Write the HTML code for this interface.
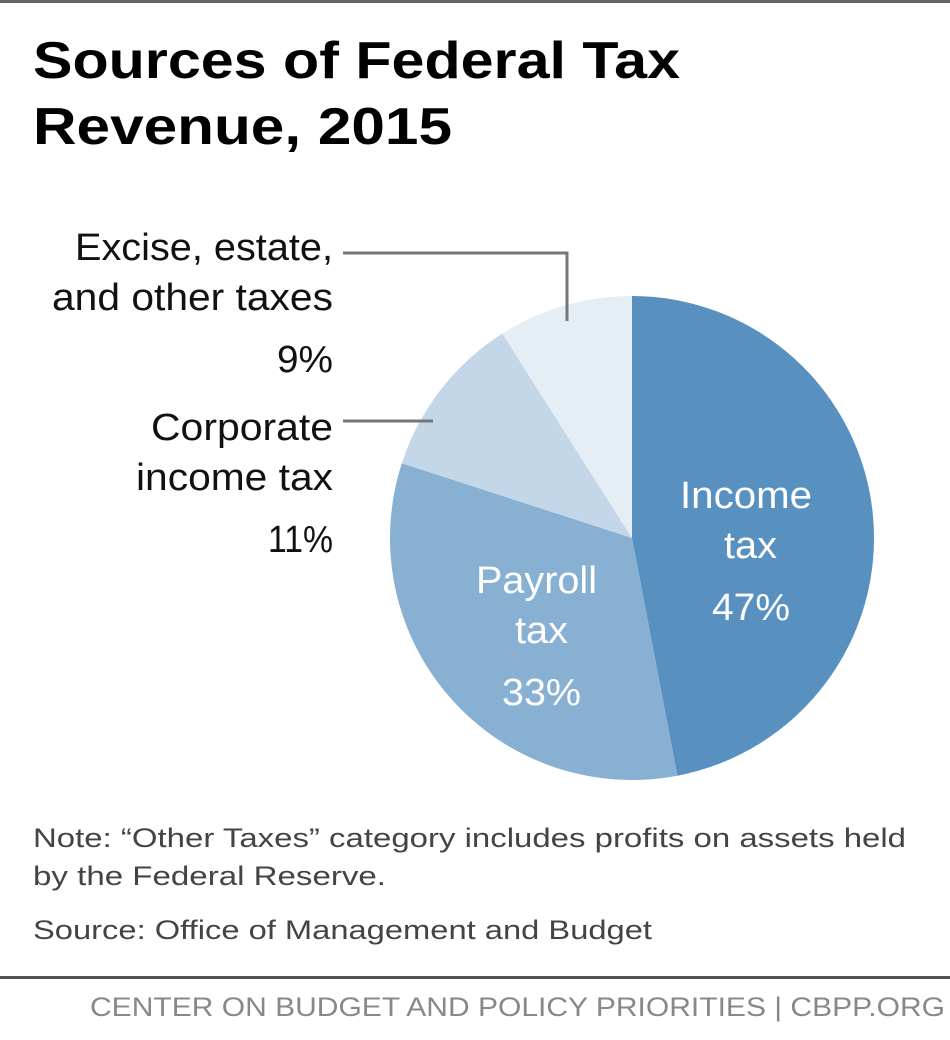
<!DOCTYPE html>
<html><head><meta charset="utf-8"><style>
html,body{margin:0;padding:0;background:#fff;}
body{width:950px;height:1035px;position:relative;overflow:hidden;font-family:"Liberation Sans",sans-serif;}
</style></head><body>
<svg width="950" height="1035" viewBox="0 0 950 1035" xmlns="http://www.w3.org/2000/svg">
<rect x="0" y="0" width="950" height="3" fill="#666"/>
<text x="33" y="78" font-size="52" font-weight="bold" fill="#000" textLength="647" lengthAdjust="spacingAndGlyphs">Sources of Federal Tax</text>
<text x="33" y="144" font-size="52" font-weight="bold" fill="#000" textLength="419" lengthAdjust="spacingAndGlyphs">Revenue, 2015</text>
<g id="pie"></g>
<g font-size="38" fill="#111" lengthAdjust="spacingAndGlyphs">
<text x="75" y="260" textLength="258" lengthAdjust="spacingAndGlyphs">Excise, estate,</text>
<text x="52" y="310" textLength="281" lengthAdjust="spacingAndGlyphs">and other taxes</text>
<text x="277" y="372" textLength="56" lengthAdjust="spacingAndGlyphs">9%</text>
<text x="151" y="440" textLength="182" lengthAdjust="spacingAndGlyphs">Corporate</text>
<text x="136" y="490" textLength="197" lengthAdjust="spacingAndGlyphs">income tax</text>
<text x="268" y="552" textLength="65" lengthAdjust="spacingAndGlyphs">11%</text>
</g>
<polyline points="343,253 567,253 567,321" fill="none" stroke="#777" stroke-width="3"/>
<line x1="343" y1="421" x2="433" y2="421" stroke="#777" stroke-width="3"/>
<g font-size="38" fill="#fff">
<text x="680" y="508" textLength="132" lengthAdjust="spacingAndGlyphs">Income</text>
<text x="724" y="558" textLength="53" lengthAdjust="spacingAndGlyphs">tax</text>
<text x="712" y="620" textLength="78" lengthAdjust="spacingAndGlyphs">47%</text>
<text x="476" y="593" textLength="121" lengthAdjust="spacingAndGlyphs">Payroll</text>
<text x="515" y="643" textLength="53" lengthAdjust="spacingAndGlyphs">tax</text>
<text x="502" y="705" textLength="79" lengthAdjust="spacingAndGlyphs">33%</text>
</g>
<g font-size="27" fill="#444">
<text x="33" y="847" textLength="873" lengthAdjust="spacingAndGlyphs">Note: “Other Taxes” category includes profits on assets held</text>
<text x="33" y="885" textLength="353" lengthAdjust="spacingAndGlyphs">by the Federal Reserve.</text>
<text x="33" y="939" textLength="619" lengthAdjust="spacingAndGlyphs">Source: Office of Management and Budget</text>
</g>
<rect x="0" y="976" width="950" height="3" fill="#555"/>
<text x="90" y="1016" font-size="27" fill="#888" textLength="855" lengthAdjust="spacingAndGlyphs">CENTER ON BUDGET AND POLICY PRIORITIES | CBPP.ORG</text>
</svg>
<script>
const categories = ["Income tax","Payroll tax","Corporate income tax","Excise, estate, and other taxes"];
const values = [47,33,11,9];
const colors = ["#5891c0","#88b0d3","#c3d7e8","#e5edf5"];
const cx=632, cy=538, r=242;
const g=document.getElementById('pie');
const total=values.reduce((a,b)=>a+b,0);
let a0=0;
values.forEach((v,i)=>{
  const a1=a0+v/total*2*Math.PI;
  const x0=cx+r*Math.sin(a0), y0=cy-r*Math.cos(a0);
  const x1=cx+r*Math.sin(a1), y1=cy-r*Math.cos(a1);
  const large=(a1-a0)>Math.PI?1:0;
  const p=document.createElementNS('http://www.w3.org/2000/svg','path');
  p.setAttribute('d',`M${cx},${cy} L${x0},${y0} A${r},${r} 0 ${large} 1 ${x1},${y1} Z`);
  p.setAttribute('fill',colors[i]);
  
  
  g.appendChild(p);
  a0=a1;
});
</script>
</body></html>
